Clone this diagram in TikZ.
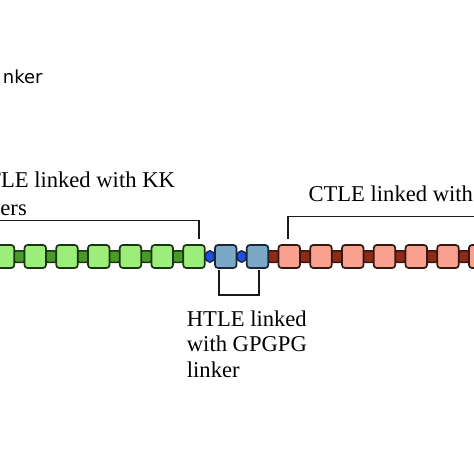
\documentclass[tikz,border=0pt]{standalone}
\usepackage{fontspec}
\setmainfont{Liberation Serif}
\newfontfamily\sansf{DejaVu Sans}
\usetikzlibrary{shapes.geometric}
\definecolor{gfill}{HTML}{9CEE7A}
\definecolor{gline}{HTML}{1A3610}
\definecolor{glink}{HTML}{4A9A26}
\definecolor{bfill}{HTML}{7BA8C6}
\definecolor{bline}{HTML}{182636}
\definecolor{blink}{HTML}{1F4FE0}
\definecolor{rfill}{HTML}{FAA08E}
\definecolor{rline}{HTML}{361812}
\definecolor{rlink}{HTML}{8E2A16}
\definecolor{brk}{HTML}{1A1A1A}
\tikzset{
  unitbox/.style={rectangle, rounded corners=3pt, minimum width=21.5pt, minimum height=23pt, inner sep=0pt, line width=1.7pt},
  gbox/.style={unitbox, fill=gfill, draw=gline},
  bbox/.style={unitbox, fill=bfill, draw=bline},
  rbox/.style={unitbox, fill=rfill, draw=rline},
  linkbox/.style={rectangle, rounded corners=1.5pt, minimum width=10.5pt, minimum height=11.5pt, inner sep=0pt, line width=1.5pt},
  glk/.style={linkbox, fill=glink, draw=gline},
  blk/.style={ellipse, minimum width=9.5pt, minimum height=11.5pt, inner sep=0pt, line width=1.4pt, fill=blink, draw=bline},
  rlk/.style={linkbox, fill=rlink, draw=rline},
  bracket/.style={draw=brk, line width=1.8pt},
  lbl/.style={inner sep=0pt, font=\fontsize{22.6}{25}\selectfont},
  slbl/.style={inner sep=0pt, font=\sansf\fontsize{18}{21}\selectfont}
}
\begin{document}
\begin{tikzpicture}[x=1pt,y=-1pt]
\useasboundingbox (0,0) rectangle (474,474);
\fill[white] (0,0) rectangle (474,474);
\clip (0,0) rectangle (474,474);
% linkers
\foreach \k in {0,...,14}{
  \pgfmathsetmacro{\xx}{3.5+31.75*\k+15.875}
  \ifnum\k<6
    \node[glk] (l\k) at (\xx,256.5) {};
  \else\ifnum\k<8
    \node[blk] (l\k) at (\xx,256.5) {};
  \else
    \node[rlk] (l\k) at (\xx,256.5) {};
  \fi\fi
}
% boxes
\foreach \k in {0,...,15}{
  \pgfmathsetmacro{\xx}{3.5+31.75*\k}
  \ifnum\k<7
    \node[gbox] (b\k) at (\xx,256.5) {};
  \else\ifnum\k<9
    \node[bbox] (b\k) at (\xx,256.5) {};
  \else
    \node[rbox] (b\k) at (\xx,256.5) {};
  \fi\fi
}
% texts
\node[slbl, anchor=base west] (tlink) at (2.7,83.3) {nker};
\node[lbl, anchor=base west] (tkk1) at (-13,187.3) {TLE linked with KK};
\node[lbl, anchor=base east] (tkk2) at (27,215) {ers};
\node[lbl, anchor=base west] (tct) at (308.3,201.7) {CTLE linked with};
\node[lbl, anchor=base west] (tht1) at (186.7,326) {HTLE linked};
\node[lbl, anchor=base west] (tht2) at (186.7,351.7) {with GPGPG};
\node[lbl, anchor=base west] (tht3) at (186.7,377.3) {linker};
% brackets
\coordinate (kkL) at (-3,220.5);
\coordinate (kkC) at (199,220.5);
\coordinate (kkD) at (199,238.5);
\draw[bracket] (kkL) -- (kkC) -- (kkD);
\coordinate (ctD) at (288.3,238.5);
\coordinate (ctC) at (288.3,216.5);
\coordinate (ctR) at (478,216.5);
\draw[bracket] (ctD) -- (ctC) -- (ctR);
\coordinate (htA) at (219.3,270);
\coordinate (htB) at (219.3,295);
\coordinate (htC) at (259.3,295);
\coordinate (htD) at (259.3,270);
\draw[bracket] (htA) -- (htB) -- (htC) -- (htD);
\end{tikzpicture}
\end{document}
